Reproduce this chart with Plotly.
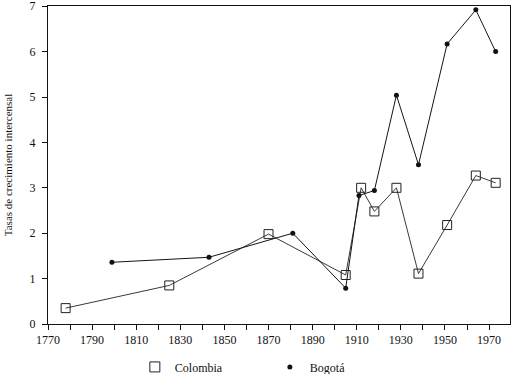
import plotly.graph_objects as go

colombia_years = [1778, 1825, 1870, 1905, 1912, 1918, 1928, 1938, 1951, 1964, 1973]
colombia_vals = [0.35, 0.85, 1.98, 1.08, 3.0, 2.48, 3.0, 1.11, 2.18, 3.27, 3.11]
bogota_years = [1799, 1843, 1881, 1905, 1911, 1918, 1928, 1938, 1951, 1964, 1973]
bogota_vals = [1.36, 1.47, 2.0, 0.79, 2.83, 2.94, 5.04, 3.51, 6.17, 6.92, 6.0]

x_tick_vals = list(range(1770, 1980, 10))
x_tick_text = [str(v) if (v - 1770) % 20 == 0 else "" for v in x_tick_vals]
y_tick_vals = [0, 1, 2, 3, 4, 5, 6, 7]

FONT = "Liberation Serif"

fig = go.Figure()
fig.add_trace(go.Scatter(
    x=colombia_years, y=colombia_vals, mode="lines+markers",
    line=dict(color="#3a3a3a", width=1),
    marker=dict(symbol="square-open", size=9, color="#222222", line=dict(width=1)),
    showlegend=False, name="Colombia"))
fig.add_trace(go.Scatter(
    x=bogota_years, y=bogota_vals, mode="lines+markers",
    line=dict(color="#151515", width=1),
    marker=dict(symbol="circle", size=5, color="#111111"),
    showlegend=False, name="Bogotá"))
# legend-only entries (markers only)
fig.add_trace(go.Scatter(
    x=[None], y=[None], mode="markers", name="Colombia",
    marker=dict(symbol="square-open", size=10, color="#222222", line=dict(width=1))))
fig.add_trace(go.Scatter(
    x=[None], y=[None], mode="markers", name="Bogotá",
    marker=dict(symbol="circle", size=5, color="#111111")))

fig.update_layout(
    width=517, height=374,
    margin=dict(l=48, r=7, t=6, b=50, autoexpand=False),
    paper_bgcolor="white", plot_bgcolor="white",
    font=dict(family=FONT, size=12, color="#111111"),
    legend=dict(orientation="h", x=0.188, y=-0.135, xanchor="left", yanchor="middle",
                entrywidth=90, entrywidthmode="pixels",
                font=dict(family=FONT, size=12), bgcolor="rgba(0,0,0,0)"),
)
fig.update_xaxes(
    range=[1770, 1979.5], tickvals=x_tick_vals, ticktext=x_tick_text,
    ticks="outside", ticklen=5, tickwidth=1, tickcolor="#111111",
    showline=True, linecolor="#111111", linewidth=1, mirror=True, automargin=False,
    ticklabeloverflow="allow",
    showgrid=False, zeroline=False, tickfont=dict(family=FONT, size=12))
fig.update_yaxes(
    range=[0, 7.005], tickvals=y_tick_vals,
    ticks="outside", ticklen=5, tickwidth=1, tickcolor="#111111",
    showline=True, linecolor="#111111", linewidth=1, mirror=True, automargin=False,
    ticklabeloverflow="allow",
    showgrid=False, zeroline=False, tickfont=dict(family=FONT, size=12), ticklabelstandoff=4,
    title=dict(text="Tasas de crecimiento intercensal", font=dict(family=FONT, size=11), standoff=14))

fig.write_html("out.html", config={"displayModeBar": False},
               post_script="document.body.style.margin='0';")
